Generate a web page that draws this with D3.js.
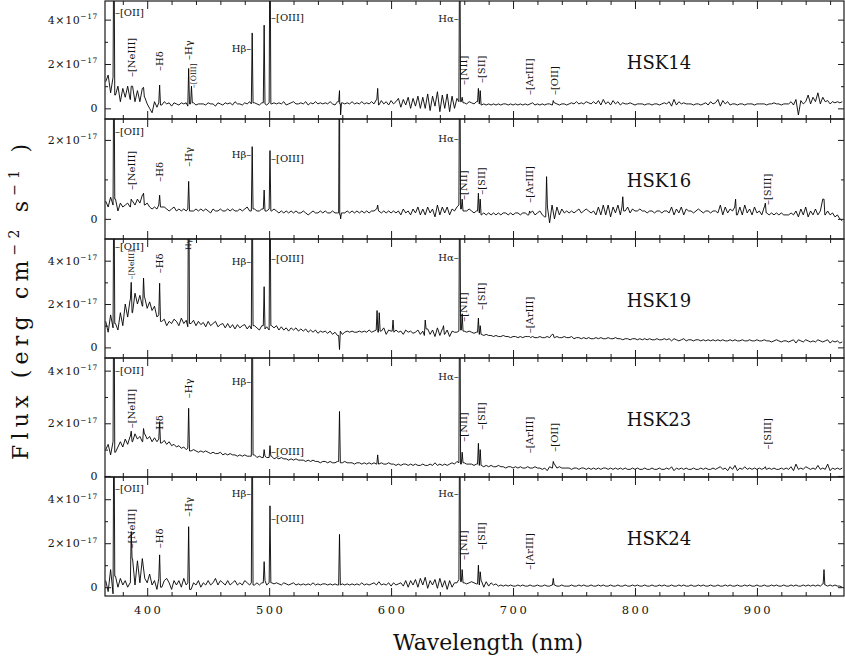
<!DOCTYPE html>
<html><head><meta charset="utf-8">
<script src="https://cdn.jsdelivr.net/npm/d3@7"></script>
<style>body{margin:0;background:#fff}svg text{font-family:"DejaVu Serif","Liberation Serif","Noto Serif",serif;fill:#111}</style>
</head><body><svg id="c" width="845" height="659"></svg>
<script>
// ---- data (flux in units of 1e-17 erg cm^-2 s^-1), sampled on a 2 nm grid starting at 366 nm ----
const gridStart = 366, gridStep = 2;
const hsk14 = [
1.2,1.5,0.7,1.4,0.6,1.0,0.3,0.9,0.5,1.0,
0.4,1.0,0.3,0.8,0.3,0.9,0.5,0.2,0.0,-0.2,
0.3,0.05,0.25,0.15,0.3,0.2,0.25,0.1,0.25,0.2,
0.15,0.25,0.2,0.25,0.1,0.2,0.25,0.15,0.2,0.2,
0.2,0.15,0.25,0.2,0.2,0.1,0.25,0.2,0.15,0.25,
0.2,0.25,0.15,0.3,0.2,0.2,0.15,0.25,0.2,0.3,
0.2,0.25,0.2,0.15,0.25,0.2,0.15,0.25,0.2,0.25,
0.2,0.25,0.2,0.3,0.15,0.2,0.25,0.3,0.2,0.2,
0.25,0.2,0.3,0.15,0.25,0.2,0.3,0.2,0.25,0.2,
0.25,0.2,0.3,0.2,0.15,0.3,0.2,0.25,0.2,0.25,
0.2,0.3,0.2,0.25,0.2,0.3,0.2,0.25,0.2,0.3,
0.2,0.4,0.15,0.35,0.2,0.3,0.15,0.35,0.2,0.3,
0.45,0.05,0.4,0.15,0.5,0.0,0.45,0.1,0.55,0.0,
0.5,0.0,0.65,-0.1,0.55,0.1,0.75,-0.15,0.6,0.0,
0.65,-0.15,0.55,0.0,0.45,0.3,0.3,0.25,0.2,0.3,
0.25,0.2,0.3,0.2,0.15,0.2,0.15,0.2,0.15,0.2,
0.15,0.2,0.15,0.2,0.2,0.15,0.2,0.15,0.2,0.15,
0.2,0.15,0.2,0.15,0.2,0.25,0.15,0.2,0.15,0.2,
0.15,0.2,0.2,0.15,0.25,0.2,0.15,0.2,0.2,0.15,
0.2,0.25,0.2,0.3,0.2,0.25,0.2,0.3,0.25,0.2,
0.3,0.2,0.35,0.15,0.4,0.2,0.3,0.15,0.35,0.2,
0.3,0.15,0.25,0.2,0.2,0.25,0.2,0.15,0.2,0.2,
0.2,0.15,0.2,0.2,0.15,0.2,0.2,0.15,0.2,0.25,
0.2,0.3,0.1,0.4,0.15,0.3,0.2,0.25,0.2,0.2,
0.2,0.15,0.2,0.2,0.15,0.2,0.25,0.15,0.3,0.2,
0.25,0.4,0.1,0.35,0.2,0.3,0.15,0.2,0.2,0.15,
0.2,0.2,0.15,0.2,0.2,0.2,0.15,0.2,0.2,0.2,
0.2,0.15,0.2,0.2,0.25,0.2,0.2,0.15,0.2,0.2,
0.2,0.3,0.15,0.4,-0.3,0.35,0.2,0.3,0.6,0.2,
0.5,0.3,0.7,0.2,0.5,0.3,0.35,0.2,0.3,0.25,
0.3,0.25,0.3];
const hsk16 = [
0.45,0.3,0.55,0.35,0.5,0.2,0.4,0.3,0.35,0.4,
0.3,0.45,0.35,0.5,0.4,0.6,0.35,0.4,0.3,0.25,
0.3,0.25,0.35,0.3,0.3,0.25,0.2,0.25,0.3,0.2,
0.25,0.2,0.25,0.2,0.25,0.2,0.2,0.25,0.2,0.25,
0.2,0.25,0.2,0.15,0.25,0.2,0.2,0.25,0.2,0.2,
0.25,0.2,0.25,0.2,0.2,0.25,0.2,0.25,0.3,0.2,
0.2,0.25,0.2,0.2,0.25,0.2,0.2,0.25,0.2,0.25,
0.2,0.15,0.2,0.15,0.2,0.15,0.2,0.15,0.2,0.15,
0.15,0.2,0.15,0.1,0.15,0.2,0.15,0.15,0.2,0.15,
0.2,0.15,0.15,0.2,0.15,0.15,0.1,0.15,0.15,0.2,
0.15,0.2,0.15,0.2,0.15,0.2,0.15,0.2,0.15,0.2,
0.2,0.25,0.2,0.15,0.2,0.15,0.2,0.15,0.2,0.15,
0.2,0.1,0.25,0.15,0.2,0.1,0.25,0.15,0.3,0.1,
0.25,0.1,0.3,0.15,0.25,0.05,0.35,0.1,0.3,0.15,
0.3,0.1,0.25,0.2,0.3,0.35,0.25,0.2,0.2,0.25,
0.2,0.15,0.2,0.15,0.1,0.15,0.1,0.15,0.1,0.15,
0.1,0.15,0.1,0.15,0.15,0.1,0.15,0.1,0.15,0.15,
0.1,0.15,0.15,0.1,0.15,0.2,0.1,0.15,0.2,0.1,
0.05,0.3,-0.1,0.35,0.0,0.3,0.1,0.25,0.15,0.2,
0.15,0.2,0.15,0.2,0.25,0.15,0.2,0.25,0.2,0.15,
0.2,0.1,0.3,0.1,0.35,0.1,0.35,0.05,0.3,0.15,
0.35,0.1,0.3,0.2,0.3,0.15,0.25,0.2,0.2,0.25,
0.2,0.2,0.15,0.2,0.2,0.15,0.2,0.2,0.15,0.2,
0.2,0.15,0.3,0.1,0.25,0.15,0.3,0.1,0.25,0.2,
0.2,0.15,0.2,0.25,0.2,0.15,0.2,0.2,0.15,0.2,
0.2,0.15,0.35,0.1,0.3,0.15,0.25,0.2,0.3,0.1,
0.3,0.1,0.35,0.15,0.25,0.1,0.3,0.15,0.2,0.1,
0.3,0.15,0.1,0.15,0.1,0.15,0.1,0.15,0.1,0.1,
0.1,0.15,0.1,0.2,0.05,0.25,0.1,0.3,0.05,0.2,
0.1,0.25,0.1,0.2,0.5,0.1,0.2,0.1,0.15,0.05,
0.1,0.0,-0.05];
const hsk19 = [
1.2,0.7,1.5,0.9,1.1,0.8,1.6,1.0,2.0,1.4,
2.2,1.6,2.5,2.0,2.4,1.9,2.3,1.8,2.1,1.7,
1.9,1.4,1.5,1.2,1.3,1.0,1.2,1.1,1.3,1.2,
1.0,1.35,1.1,1.25,0.95,1.1,1.25,1.0,1.2,1.05,
1.15,0.95,1.2,1.0,1.1,1.2,0.95,1.05,1.1,0.9,
1.1,0.9,1.05,0.85,1.05,0.9,1.0,1.05,0.85,1.0,
0.85,1.0,0.9,0.8,1.0,0.85,0.95,0.8,1.0,0.9,
1.0,0.8,0.95,0.8,0.9,0.75,0.9,0.8,0.9,0.75,
0.85,0.75,0.85,0.7,0.8,0.7,0.8,0.65,0.75,0.7,
0.75,0.65,0.75,0.6,0.7,0.55,0.75,0.6,0.7,0.75,
0.7,0.75,0.7,0.7,0.75,0.7,0.75,0.7,0.8,0.7,
0.75,0.8,0.7,0.75,0.9,0.6,0.8,0.75,0.7,0.8,
0.7,0.75,0.6,0.8,0.7,0.75,0.65,0.7,0.8,0.6,
0.75,0.55,0.85,0.6,0.8,0.5,0.9,0.55,0.85,0.6,
0.8,0.5,0.75,0.7,0.7,0.75,0.8,0.75,0.7,0.75,
0.7,0.65,0.7,0.6,0.6,0.55,0.6,0.55,0.55,0.5,
0.55,0.5,0.5,0.55,0.5,0.5,0.45,0.5,0.5,0.45,
0.5,0.45,0.5,0.5,0.45,0.5,0.45,0.45,0.5,0.45,
0.45,0.5,0.45,0.6,0.45,0.5,0.45,0.45,0.5,0.45,
0.45,0.5,0.4,0.45,0.45,0.4,0.45,0.4,0.45,0.4,
0.4,0.45,0.4,0.45,0.4,0.4,0.45,0.4,0.4,0.45,
0.4,0.4,0.35,0.4,0.4,0.35,0.4,0.4,0.35,0.4,
0.35,0.4,0.35,0.4,0.35,0.35,0.4,0.35,0.35,0.4,
0.35,0.4,0.3,0.4,0.35,0.3,0.35,0.4,0.3,0.35,
0.35,0.3,0.35,0.35,0.3,0.35,0.3,0.35,0.3,0.35,
0.3,0.35,0.3,0.35,0.3,0.3,0.35,0.3,0.35,0.3,
0.3,0.35,0.3,0.3,0.35,0.3,0.3,0.35,0.3,0.3,
0.35,0.3,0.3,0.25,0.3,0.35,0.3,0.25,0.3,0.3,
0.25,0.3,0.35,0.2,0.35,0.3,0.25,0.35,0.3,0.25,
0.3,0.25,0.35,0.3,0.25,0.3,0.35,0.2,0.3,0.25,
0.3,0.2,0.25];
const hsk23 = [
1.0,1.2,0.8,1.3,0.9,1.1,1.3,1.1,1.4,1.2,
1.5,1.3,1.6,1.4,1.5,1.3,1.6,1.4,1.5,1.3,
1.45,1.3,1.4,1.25,1.35,1.2,1.3,1.15,1.2,1.1,
1.15,1.05,1.1,1.0,1.05,0.95,1.0,0.95,0.9,0.95,
0.9,0.95,0.9,0.85,0.9,0.85,0.85,0.9,0.8,0.85,
0.8,0.85,0.8,0.8,0.75,0.8,0.75,0.8,0.75,0.75,
0.75,0.8,0.7,0.75,0.7,0.75,0.7,0.7,0.75,0.65,
0.7,0.65,0.7,0.65,0.65,0.6,0.65,0.6,0.65,0.6,
0.6,0.6,0.55,0.6,0.55,0.6,0.55,0.55,0.5,0.55,
0.55,0.5,0.55,0.5,0.5,0.55,0.5,0.5,0.55,0.5,
0.5,0.5,0.45,0.5,0.5,0.45,0.5,0.45,0.5,0.45,
0.5,0.45,0.45,0.5,0.45,0.45,0.5,0.45,0.45,0.4,
0.45,0.4,0.45,0.45,0.4,0.45,0.4,0.45,0.4,0.4,
0.45,0.4,0.4,0.45,0.4,0.5,0.4,0.45,0.4,0.45,
0.4,0.45,0.5,0.45,0.55,0.5,0.45,0.5,0.45,0.45,
0.45,0.4,0.45,0.4,0.4,0.35,0.4,0.35,0.4,0.35,
0.35,0.4,0.35,0.35,0.3,0.35,0.35,0.3,0.35,0.3,
0.35,0.3,0.3,0.35,0.3,0.3,0.35,0.3,0.3,0.25,
0.3,0.2,0.35,0.3,0.45,0.3,0.35,0.3,0.3,0.3,
0.3,0.25,0.3,0.3,0.25,0.3,0.3,0.25,0.3,0.25,
0.3,0.25,0.3,0.25,0.3,0.3,0.25,0.3,0.25,0.3,
0.25,0.3,0.25,0.3,0.25,0.25,0.3,0.25,0.3,0.25,
0.25,0.3,0.25,0.25,0.3,0.25,0.25,0.3,0.25,0.25,
0.3,0.25,0.35,0.2,0.3,0.25,0.3,0.25,0.3,0.25,
0.25,0.3,0.25,0.25,0.3,0.25,0.3,0.25,0.25,0.3,
0.25,0.3,0.35,0.25,0.3,0.2,0.35,0.25,0.4,0.2,
0.3,0.25,0.35,0.25,0.3,0.25,0.3,0.25,0.3,0.25,
0.3,0.25,0.3,0.25,0.3,0.25,0.25,0.3,0.25,0.3,
0.25,0.35,0.2,0.45,0.25,0.3,0.25,0.35,0.3,0.25,
0.3,0.25,0.4,0.25,0.3,0.25,0.45,0.2,0.3,0.25,
0.3,0.25,0.3];
const hsk24 = [
0.3,-0.2,0.8,-0.3,0.5,0.0,0.4,0.1,0.3,0.0,
0.2,1.3,0.1,1.2,0.2,1.3,0.4,0.2,0.6,0.1,
0.3,-0.1,0.4,0.0,0.3,0.4,0.2,-0.1,0.3,0.1,
0.3,0.0,0.4,0.1,0.2,-0.1,0.2,0.1,0.3,0.0,
0.2,0.1,0.3,0.1,0.2,0.4,0.1,0.3,0.2,0.1,
0.3,0.1,0.2,0.3,0.1,0.2,0.1,0.3,0.2,0.1,
0.2,0.1,0.2,0.1,0.2,0.3,0.1,0.2,0.2,0.15,
0.2,0.15,0.1,0.2,0.15,0.1,0.15,0.2,0.1,0.15,
0.1,0.15,0.1,0.15,0.1,0.2,0.1,0.15,0.1,0.15,
0.15,0.1,0.15,0.1,0.15,0.1,0.1,0.15,0.1,0.15,
0.1,0.15,0.1,0.15,0.1,0.2,0.1,0.15,0.1,0.15,
0.2,0.1,0.25,0.1,0.15,0.1,0.2,0.05,0.2,0.1,
0.15,0.2,0.05,0.3,0.0,0.3,0.1,0.35,0.0,0.4,
0.1,0.45,-0.05,0.3,0.1,0.35,-0.05,0.4,0.0,0.3,
-0.1,0.3,0.0,0.2,0.2,0.35,0.25,0.2,0.15,0.2,
0.25,0.2,0.15,0.1,0.3,0.0,0.25,0.05,0.2,0.1,
0.15,0.05,0.1,0.05,0.1,0.05,0.1,0.05,0.05,0.1,
0.05,0.1,0.05,0.05,0.1,0.05,0.05,0.1,0.05,0.05,
0.1,0.05,0.05,0.1,0.1,0.05,0.05,0.1,0.05,0.05,
0.05,0.1,0.05,0.05,0.1,0.05,0.1,0.05,0.05,0.1,
0.05,0.05,0.1,0.05,0.1,0.05,0.05,0.1,0.05,0.05,
0.1,0.05,0.05,0.1,0.05,0.05,0.1,0.05,0.1,0.05,
0.05,0.1,0.05,0.05,0.1,0.05,0.05,0.1,0.05,0.1,
0.05,0.05,0.1,0.05,0.05,0.1,0.05,0.1,0.05,0.05,
0.1,0.05,0.05,0.1,0.05,0.1,0.05,0.05,0.1,0.05,
0.05,0.1,0.05,0.05,0.1,0.05,0.1,0.05,0.05,0.1,
0.05,0.05,0.1,0.05,0.1,0.05,0.05,0.1,0.05,0.05,
0.1,0.05,0.05,0.1,0.05,0.1,0.05,0.05,0.1,0.05,
0.05,0.1,0.05,0.1,0.05,0.05,0.1,0.05,0.1,0.05,
0.1,0.05,0.1,0.05,0.15,0.1,0.05,0.1,0.05,0.1,
0.05,0.05,0.0];

// emission / sky line peaks: [wavelength nm, peak flux]
const lines14 = [[372.7,9],[386.9,1.0],[397.0,0.95],[410.2,1.05],[434.0,1.8],[436.3,1.0],[486.1,3.4],[495.9,3.75],[500.7,9],[557.7,0.8],[558.6,-0.3],[589.0,0.9],[656.3,9],[658.3,0.5],[671.6,0.9],[673.1,0.8],[733.0,0.35]];
const lines16 = [[372.7,5],[386.9,0.5],[397.0,0.65],[410.2,0.6],[434.0,0.95],[486.1,1.83],[495.9,0.73],[500.7,1.73],[557.7,5],[558.6,0.0],[589.0,0.35],[656.3,5],[658.3,0.5],[671.6,0.65],[673.1,0.5],[713.6,0.2],[727.5,1.07],[790.0,0.56],[882.5,0.5],[906.9,0.4],[955.0,0.5]];
const lines19 = [[372.7,9],[386.9,3.0],[397.0,3.2],[410.2,2.96],[434.0,9],[486.1,9],[495.9,2.8],[500.7,9],[557.7,-0.1],[588.5,1.7],[590.3,1.6],[601.6,1.26],[628.0,1.26],[643.0,1.0],[656.3,9],[658.3,1.55],[671.6,1.35],[673.1,1.0],[713.6,0.5],[733.0,0.6]];
const lines23 = [[372.7,9],[386.9,1.7],[397.0,1.8],[410.2,2.06],[434.0,2.57],[486.1,9],[495.9,1.0],[500.7,1.15],[557.7,2.45],[589.0,0.8],[656.3,9],[658.3,0.9],[671.6,1.24],[673.1,1.0],[733.0,0.55],[906.9,0.35]];
const lines24 = [[372.7,9],[386.9,2.53],[410.2,1.47],[434.0,2.75],[486.1,9],[495.9,1.16],[500.7,3.7],[557.7,2.4],[656.3,9],[658.3,0.8],[671.6,1.0],[673.1,0.7],[733.0,0.4],[955.0,0.8]];

const names = ["HSK14","HSK16","HSK19","HSK23","HSK24"];
const yDomains = [[-0.48,4.84],[-0.51,2.53],[-0.49,5.0],[-0.04,4.48],[-0.4,5.01]];
const yMajorTicks = [[0,2,4],[0,2],[0,2,4],[0,2,4],[0,2,4]];
const yMinorTicks = [[1,3],[1],[1,3],[1,3],[1,3]];
const xMajorTicks = [400,500,600,700,800,900];
const xMinorTicks = [380,420,440,460,480,520,540,560,580,620,640,660,680,720,740,760,780,820,840,860,880,920,940,960];

// annotations: [text, wavelength, flux, kind]  r=rotated, s=small rotated, R=right of line, L=left of line
const ann14 = [["–[OII]",372.7,4.3,"R"],["–[NeIII]",387.3,1.41,"r"],["–Hδ",410.3,1.68,"r"],["–Hγ",434,2.18,"r"],["–[OIII]",438,0.92,"s"],["Hβ–",486.1,2.72,"L"],["–[OIII]",500.7,4.08,"R"],["Hα–",656.3,4.03,"L"],["–[NII]",659,1.05,"r"],["–[SII]",674,1.14,"r"],["–[ArIII]",713.8,0.6,"r"],["–[OII]",734.3,0.6,"r"]];
const ann16 = [["–[OII]",372.7,2.21,"R"],["–[NeIII]",387.3,0.73,"r"],["–Hδ",410.3,0.94,"r"],["–Hγ",434,1.32,"r"],["Hβ–",486.1,1.62,"L"],["–[OIII]",500.7,1.54,"R"],["Hα–",656.3,2.03,"L"],["–[NII]",659,0.48,"r"],["–[SII]",674,0.61,"r"],["–[ArIII]",713.8,0.41,"r"],["–[SIII]",908.5,0.35,"r"]];
const ann19 = [["–[OII]",372.7,4.65,"R"],["–[NeIII]",387.3,3.14,"s"],["–Hδ",410.3,3.42,"r"],["Hγ",434,4.49,"s"],["Hβ–",486.1,3.95,"L"],["–[OIII]",500.7,4.12,"R"],["Hα–",656.3,4.14,"L"],["–[NII]",659,1.18,"r"],["–[SII]",674,1.72,"r"],["–[ArIII]",713.8,0.65,"r"]];
const ann23 = [["–[OII]",372.7,4.0,"R"],["–[NeIII]",387.3,1.81,"r"],["Hδ",410.3,1.75,"r"],["–Hγ",434,2.95,"r"],["Hβ–",486.1,3.59,"L"],["–[OIII]",500.7,0.92,"R"],["Hα–",656.3,3.78,"L"],["–[NII]",659,1.3,"r"],["–[SII]",674,1.75,"r"],["–[ArIII]",713.8,0.86,"r"],["–[OII]",734.3,0.92,"r"],["–[SIII]",908.5,1.0,"r"]];
const ann24 = [["–[OII]",372.7,4.5,"R"],["–[NeIII]",387.3,1.77,"r"],["–Hδ",410.3,1.77,"r"],["–Hγ",434,3.2,"r"],["Hβ–",486.1,4.24,"L"],["–[OIII]",500.7,3.14,"R"],["Hα–",656.3,4.24,"L"],["–[NII]",659,1.24,"r"],["–[SII]",674,1.7,"r"],["–[ArIII]",713.8,0.79,"r"]];

// ---- drawing ----
const fluxes = [hsk14,hsk16,hsk19,hsk23,hsk24];
const lineSets = [lines14,lines16,lines19,lines23,lines24];
const anns = [ann14,ann16,ann19,ann23,ann24];
const tops = [1,119,239,358,477], bots = [119,239,358,477,596];
const L = 105, R = 844;
const svg = d3.select("#c");
const x = d3.scaleLinear().domain([365.4, 971.4]).range([L, R]);

function buildSeries(flux, lines){
  const hw = 0.7;
  const pts = flux.map((v,i)=>[gridStart+i*gridStep, v])
    .filter(p => !lines.some(l => Math.abs(l[0]-p[0]) < hw));
  lines.forEach(([c,p])=>{
    const iL = Math.max(0, Math.floor((c-gridStart)/gridStep));
    const iR = Math.min(flux.length-1, iL+1);
    pts.push([c-hw, flux[iL]],[c,p],[c+hw, flux[iR]]);
  });
  return pts.sort((a,b)=>a[0]-b[0]);
}

const defs = svg.append("defs");
const ink = "#1a1a1a";

fluxes.forEach((flux, i)=>{
  const top = tops[i], bot = bots[i];
  const y = d3.scaleLinear().domain(yDomains[i]).range([bot, top]);
  const g = svg.append("g");
  defs.append("clipPath").attr("id","cp"+i).append("rect")
    .attr("x",L).attr("y",top).attr("width",R-L).attr("height",bot-top);
  const pts = buildSeries(flux, lineSets[i]);
  g.append("path").datum(pts).attr("clip-path",`url(#cp${i})`)
    .attr("d", d3.line().x(d=>x(d[0])).y(d=>y(d[1])))
    .attr("fill","none").attr("stroke","#000").attr("stroke-width",0.9).attr("stroke-linejoin","round");
  g.append("rect").attr("x",L).attr("y",top).attr("width",R-L).attr("height",bot-top)
    .attr("fill","none").attr("stroke",ink).attr("stroke-width",1.2);
  function ax(axis, tx, ty){
    const a = g.append("g").attr("transform",`translate(${tx},${ty})`).call(axis);
    a.select(".domain").remove(); a.selectAll("text").remove();
    a.selectAll("line").attr("stroke",ink).attr("stroke-width",1);
  }
  ax(d3.axisBottom(x).tickValues(xMajorTicks).tickSize(-8), 0, bot);
  ax(d3.axisBottom(x).tickValues(xMinorTicks).tickSize(-4), 0, bot);
  ax(d3.axisTop(x).tickValues(xMajorTicks).tickSize(-8), 0, top);
  ax(d3.axisTop(x).tickValues(xMinorTicks).tickSize(-4), 0, top);
  ax(d3.axisLeft(y).tickValues(yMajorTicks[i]).tickSize(-6), L, 0);
  ax(d3.axisLeft(y).tickValues(yMinorTicks[i]).tickSize(-3), L, 0);
  ax(d3.axisRight(y).tickValues(yMajorTicks[i]).tickSize(-6), R, 0);
  ax(d3.axisRight(y).tickValues(yMinorTicks[i]).tickSize(-3), R, 0);

  // y tick labels
  yMajorTicks[i].forEach(v=>{
    const t = g.append("text").attr("x",98).attr("y",y(v)+4).attr("text-anchor","end")
      .attr("font-size",11).attr("letter-spacing",0.6);
    if (v === 0) t.text("0");
    else {
      t.append("tspan").text(v+"×10");
      t.append("tspan").attr("dy",-4.5).attr("font-size",7.5).text("−17");
    }
  });

  // object name
  g.append("text").attr("x",659).attr("y",top+68).attr("text-anchor","middle")
    .attr("font-size",18).text(names[i]);

  // line annotations
  anns[i].forEach(([txt, wl, v, kind])=>{
    const px = x(wl), py = y(v);
    if (kind === "R" || kind === "L") {
      g.append("text").attr("x", kind==="R" ? px+1 : px-1).attr("y", py)
        .attr("text-anchor", kind==="R" ? "start" : "end").attr("dominant-baseline","central")
        .attr("font-size",10).text(txt);
    } else {
      g.append("text").attr("transform",`translate(${px},${py}) rotate(-90)`)
        .attr("text-anchor","start").attr("dominant-baseline","central")
        .attr("font-size", kind==="s" ? 7.5 : 10).text(txt);
    }
  });

  if (i === fluxes.length-1) {
    xMajorTicks.forEach(v=>{
      g.append("text").attr("x",x(v)+1.5).attr("y",614).attr("text-anchor","middle")
        .attr("font-size",11.5).attr("letter-spacing",2.5).text(v);
    });
  }
});

// axis titles
svg.append("text").attr("x",488).attr("y",650).attr("text-anchor","middle")
  .attr("font-size",22).attr("textLength",190).attr("lengthAdjust","spacing").text("Wavelength (nm)");
const yt = svg.append("text").attr("transform","translate(28,302) rotate(-90)")
  .attr("text-anchor","middle").attr("font-size",22).attr("textLength",316).attr("lengthAdjust","spacing");
yt.append("tspan").text("Flux (erg cm");
yt.append("tspan").attr("dy",-9).attr("font-size",14).text("−2");
yt.append("tspan").attr("dy",9).text(" s");
yt.append("tspan").attr("dy",-9).attr("font-size",14).text("−1");
yt.append("tspan").attr("dy",9).text(" )");
</script></body></html>
